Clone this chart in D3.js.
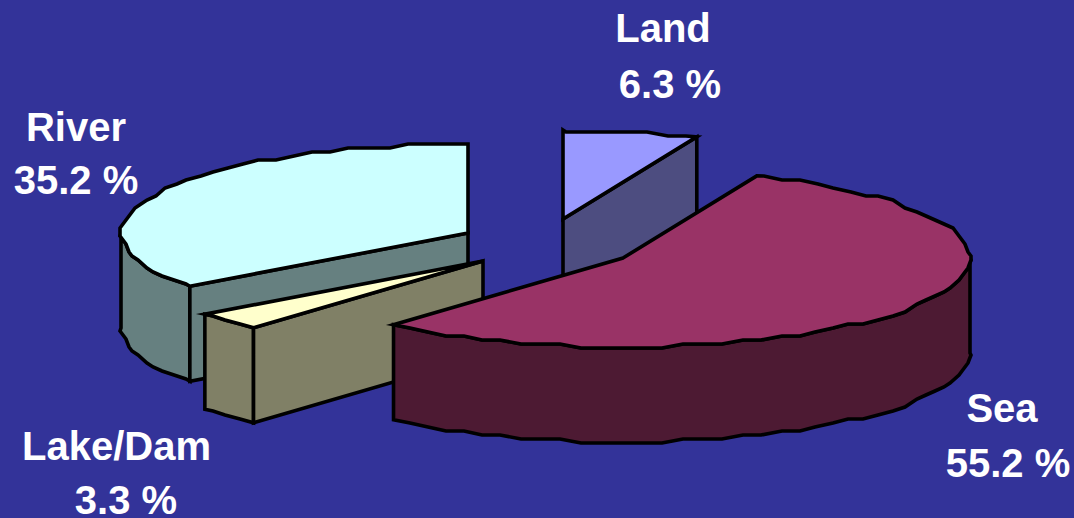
<!DOCTYPE html>
<html><head><meta charset="utf-8">
<script src="https://cdnjs.cloudflare.com/ajax/libs/d3/7.8.5/d3.min.js"></script>
<style>html,body{margin:0;padding:0;background:#333399;overflow:hidden}svg{display:block}</style>
</head><body>
<svg id="c" width="1074" height="518"></svg>
<script>
const categories = ["Sea","Lake/Dam","River","Land"];
const values = [55.2,3.3,35.2,6.3];
const valueLabels = ["55.2 %","3.3 %","35.2 %","6.3 %"];
const topColors = ["#993366","#FFFFCC","#CCFFFF","#9999FF"];
const sideColors = ["#4D1A33","#808066","#668080","#4D4D80"];

const W=1074,H=518;
const RX=347,RY=89,DEPTH=95,STEP=3.4,GX=3,GY=4;
const TAU=Math.PI*2;
const startAngle=values[3]/d3.sum(values)*TAU; // Land starts straight up, Sea follows it
// layout per category: apex of the exploded slice and label anchors
const layout={
  "Sea":{cx:623,cy:258,lx:[1002,1008],ly:[422,477],order:3},
  "Lake/Dam":{cx:483,cy:261,lx:[116.5,126],ly:[460,514],order:2},
  "River":{cx:468,cy:233,lx:[76,76],ly:[141,194],order:1},
  "Land":{cx:563,cy:219,lx:[663,670],ly:[42,98],order:0}
};
const pie=d3.pie().sort(null).value(d=>d).startAngle(startAngle).endAngle(startAngle+TAU);
const arcs=pie(values).map((p,i)=>({...p,name:categories[i],label:valueLabels[i],top:topColors[i],side:sideColors[i],...layout[categories[i]]}));
const svg=d3.select("#c");
svg.append("rect").attr("width",W).attr("height",H).attr("fill","#333399");
const line=d3.line().x(p=>p[0]).y(p=>p[1]);
const snap=(v,g)=>Math.round(v/g)*g;
function pt(d,a){return [d.cx+RX*Math.sin(a),d.cy-RY*Math.cos(a)];}
// rim polyline from a0 to a1, sampled on a fixed angle grid and snapped to a coarse
// pixel grid, which reproduces the scalloped edge of the low-res source
function rim(d,a0,a1){
  const step=STEP/360*TAU,out=[pt(d,a0)];
  for(let k=Math.floor(a0/step+1e-6)+1;k*step<a1-step*0.2;k++){
    const p=pt(d,k*step);out.push([d.cx+snap(p[0]-d.cx,GX),snap(p[1],GY)]);
  }
  out.push(pt(d,a1));return out;
}
const down=ps=>ps.map(p=>[p[0],p[1]+DEPTH]);
const g=svg.append("g").attr("stroke","#000").attr("stroke-width",3.6).attr("stroke-linejoin","miter").attr("stroke-miterlimit",6);
function poly(ps,fill){g.append("path").attr("d",line(ps)+"Z").attr("fill",fill);}
const Q=Math.PI/2;
[...arcs].sort((a,b)=>a.order-b.order).forEach(d=>{
  const a0=d.startAngle,a1=d.endAngle,apex=[d.cx,d.cy];
  // outer wall: only the part of the rim on the near side (90deg..270deg)
  const w0=Math.max(a0,Q),w1=Math.min(a1,3*Q);
  if(d.name!=="Land"&&w1>w0){const r=rim(d,w0,w1);poly(r.concat(down(r).reverse()),d.side);}
  // radial wall at the slice edge that faces the viewer
  const edge=d.name==="Land"?a1:(d.name==="Sea"?null:a0);
  if(edge!==null){const e=pt(d,edge%TAU);poly([apex,e,[e[0],e[1]+DEPTH],[apex[0],apex[1]+DEPTH]],d.side);}
  // top face
  poly([apex].concat(rim(d,a0,a1)),d.top);
});
const t=svg.append("g").attr("fill","#fff").attr("font-family","'Liberation Sans',Arial,sans-serif").attr("font-weight","700").attr("font-size",40).attr("text-anchor","middle");
arcs.forEach(d=>{
  t.append("text").attr("x",d.lx[0]).attr("y",d.ly[0]).text(d.name);
  t.append("text").attr("x",d.lx[1]).attr("y",d.ly[1]).text(d.label);
});
</script>
</body></html>
